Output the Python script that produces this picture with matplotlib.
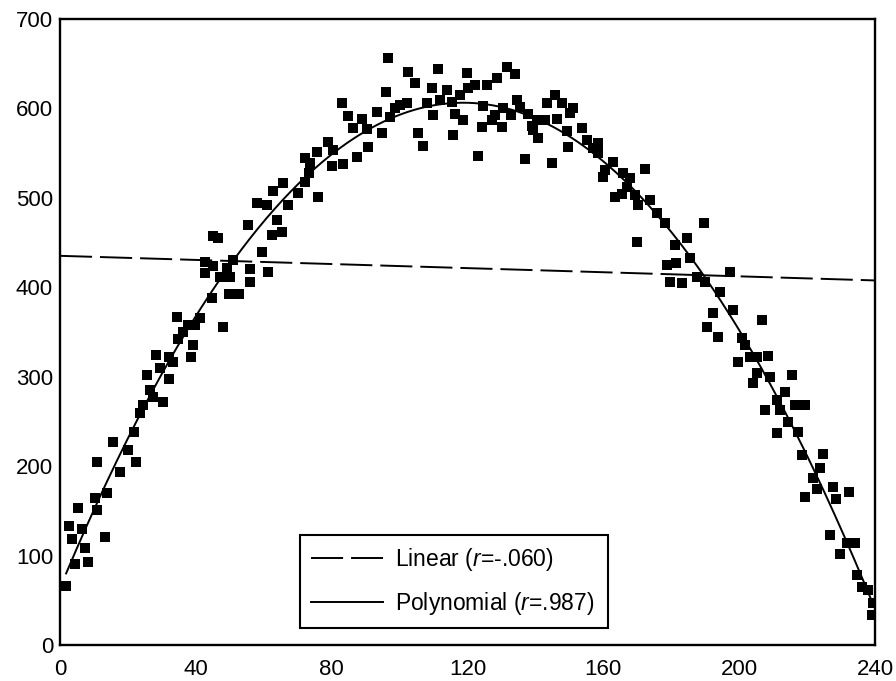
import matplotlib
matplotlib.use("Agg")
import matplotlib.pyplot as plt
import numpy as np
from matplotlib import font_manager

# ---------------- data ----------------
x_vals = [15.6, 20.0, 10.9, 22.4, 17.7, 13.8, 10.3, 5.3, 10.9, 2.7, 6.5, 13.3, 3.5, 7.4, 4.4, 8.2, 1.8,
          34.5, 41.2, 37.7, 48.0, 39.8, 36.2, 34.7, 39.2, 38.6, 28.3, 32.1, 33.3, 29.4, 25.6, 32.1, 26.5,
          27.4, 30.3, 24.4, 23.6, 21.8,
          65.7, 72.1, 62.7, 70.1, 76.0, 58.0, 61.0, 67.1, 55.4, 63.9, 65.4, 62.4, 46.5, 45.1, 59.5, 50.9,
          42.7, 45.1, 49.2, 55.9, 61.2, 42.7, 47.1, 50.1, 55.9, 49.8, 52.7, 44.8,
          96.6, 102.5, 111.3, 104.5, 109.5, 114.0, 96.0, 83.0, 108.1, 111.9, 100.1, 102.2, 98.6, 93.3,
          84.8, 109.8, 88.9, 97.2, 86.3, 90.4, 94.8, 105.4, 106.9, 90.7, 78.9, 75.7, 80.4, 87.5, 72.1,
          83.3, 80.1, 73.6, 73.3,
          119.8, 131.6, 134.0, 128.7, 125.7, 122.2, 120.1, 117.8, 115.4, 124.6, 134.6, 145.8, 143.4,
          147.8, 151.1, 150.2, 130.4, 135.5, 137.8, 132.8, 116.3, 128.1, 118.7, 127.2, 140.5, 142.8,
          146.3, 139.0, 124.3, 130.2, 139.3, 149.3, 153.7, 115.7, 140.8, 155.2, 149.6, 157.0, 123.1,
          136.9, 144.9, 158.4,
          158.4, 162.8, 160.5, 159.9, 165.8, 167.8, 172.3, 167.0, 163.4, 165.5, 169.3, 170.2, 173.7,
          175.8, 178.2, 189.6, 169.9, 181.1, 184.6, 185.5, 178.7, 181.4, 179.6, 183.2, 187.6, 189.9,
          197.3, 194.3, 198.2, 192.3, 206.7, 190.5, 193.8, 200.8, 201.7, 199.6, 203.2, 205.2, 208.5,
          205.2, 209.1, 215.5, 204.1, 213.5, 211.1, 216.4, 219.4, 207.6, 212.0, 214.4,
          211.1, 217.3, 218.6, 224.7, 223.8, 221.7, 222.9, 227.6, 232.3, 219.4, 228.5, 226.7, 231.7,
          234.1, 229.7, 234.7, 236.2, 237.9, 239.4, 239.1]
y_vals = [227, 218, 205, 205, 193, 170, 164, 153, 151, 133, 130, 121, 119, 108, 91, 93, 66,
          367, 366, 358, 356, 358, 350, 342, 335, 322, 324, 322, 316, 310, 302, 297, 285,
          277, 272, 268, 259, 238,
          517, 518, 508, 505, 501, 494, 492, 492, 470, 475, 462, 458, 455, 457, 439, 431,
          428, 424, 422, 420, 417, 416, 411, 411, 406, 392, 392, 388,
          656, 641, 644, 628, 623, 621, 618, 606, 606, 609, 604, 606, 600, 596,
          592, 593, 588, 590, 578, 577, 573, 573, 558, 557, 562, 551, 553, 546, 545,
          538, 536, 539, 528,
          640, 646, 638, 634, 626, 626, 623, 615, 607, 603, 609, 615, 606,
          606, 600, 595, 600, 602, 594, 593, 594, 593, 587, 587, 587, 587,
          588, 580, 579, 579, 576, 575, 578, 570, 567, 565, 557, 556, 547,
          543, 539, 550,
          561, 540, 531, 523, 528, 522, 532, 512, 501, 504, 503, 492, 498,
          483, 472, 472, 451, 447, 455, 433, 425, 427, 406, 405, 411, 406,
          417, 395, 375, 371, 363, 356, 344, 343, 335, 316, 322, 322, 323,
          304, 300, 302, 293, 283, 274, 268, 268, 263, 263, 249,
          237, 238, 212, 214, 198, 187, 174, 177, 171, 165, 163, 123, 114,
          114, 102, 78, 65, 61, 47, 34]

x_ticks = [0, 40, 80, 120, 160, 200, 240]
y_ticks = [0, 100, 200, 300, 400, 500, 600, 700]
label_linear = "Linear ($r$=-.060)"
label_poly = "Polynomial ($r$=.987)"

# ---------------- fonts ----------------
names = {f.name for f in font_manager.fontManager.ttflist}
narrow = "Liberation Sans Narrow" if "Liberation Sans Narrow" in names else "Liberation Sans"
plt.rcParams['font.family'] = [narrow, 'DejaVu Sans']
plt.rcParams['mathtext.fontset'] = 'custom'
plt.rcParams['mathtext.it'] = narrow + ':italic'
plt.rcParams['mathtext.rm'] = narrow

x = np.array(x_vals)
y = np.array(y_vals)

fig = plt.figure(figsize=(8.96, 6.81), dpi=100)
ax = fig.add_axes([60/896, 1-645/681, 815/896, 626/681])

ax.scatter(x, y, marker='s', s=42, color='black', linewidths=0, zorder=2)

xs = np.linspace(x.min(), x.max(), 400)
lin = np.polyfit(x, y, 1)
quad = np.polyfit(x, y, 2)
xl = np.linspace(0, 240, 100)
ax.plot(xl, np.polyval(lin, xl), color='black', lw=1.4, dashes=(16.5, 4.1),
        label=label_linear, zorder=3)
ax.plot(xs, np.polyval(quad, xs), color='black', lw=1.4, label=label_poly, zorder=3)

ax.set_xlim(0, 240)
ax.set_ylim(0, 700)
ax.set_xticks(x_ticks)
ax.set_yticks(y_ticks)
ax.tick_params(axis='both', length=0, labelsize=16)
ax.tick_params(axis='x', pad=10)
ax.tick_params(axis='y', pad=5)
for s in ax.spines.values():
    s.set_linewidth(1.7)
    s.set_color('black')

leg = ax.legend(loc='lower left', bbox_to_anchor=(0.2945, 0.027, 0.3775, 0.1535),
                mode='expand', borderaxespad=0, fancybox=False, framealpha=1,
                edgecolor='black', fontsize=16.5, handlelength=3.1, handletextpad=0.55,
                labelspacing=0.72, borderpad=0.5)
leg.get_frame().set_linewidth(1.5)

fig.savefig("out.png", dpi=100)
